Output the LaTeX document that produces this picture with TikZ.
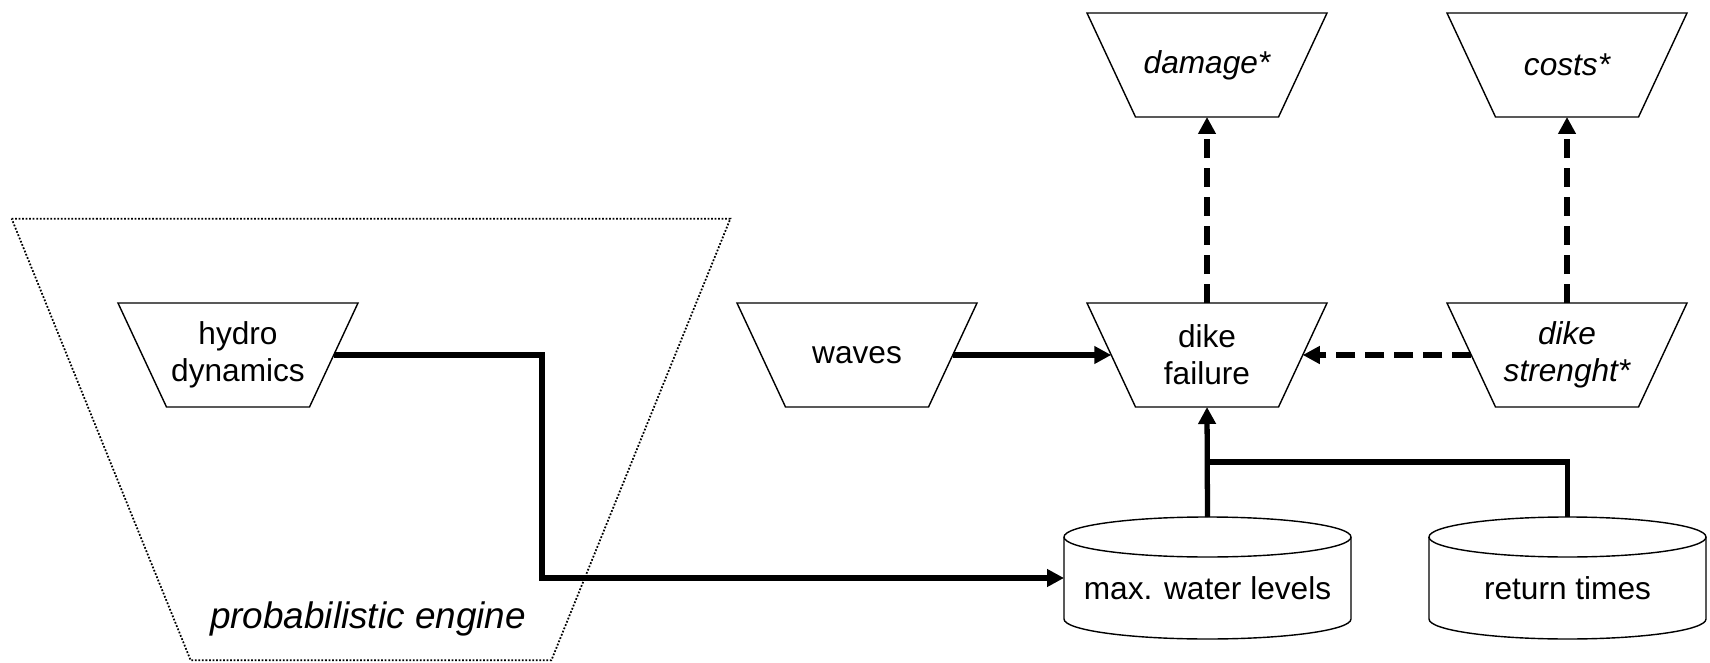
\documentclass[tikz,border=0pt]{standalone}
\usepackage{fontspec}
\setmainfont{Liberation Sans}
\usetikzlibrary{arrows.meta, calc}

\begin{document}
\begin{tikzpicture}[
        model/.style={minimum width=4.8cm, minimum height=2.08cm, inner sep=0pt, outer sep=0pt,
            align=center, font=\fontsize{18}{21}\selectfont},
        store/.style={minimum width=5.74cm, minimum height=2.44cm, inner sep=0pt, outer sep=0pt,
            text height=0.86cm, text depth=0pt, font=\fontsize{18}{21}\selectfont},
        border/.style={line width=0.8pt},
        flow/.style={line width=3pt, -{Triangle[length=3.4mm, width=3.4mm]}},
        effect/.style={flow, dash pattern=on 3.8mm off 2mm}
    ]
        \useasboundingbox (0,0) rectangle (34.2,13.24);
        % probabilistic engine
        \node[minimum width=14.36cm, minimum height=8.82cm] (engine) at (7.42,4.45) {};
        \draw[line width=1pt, dash pattern=on 1pt off 1pt] (engine.north west) -- (engine.north east)
            -- ([xshift=-3.58cm]engine.south east) -- ([xshift=3.58cm]engine.south west) -- cycle;
        \node[font=\fontsize{21}{25}\selectfont\itshape] (enginelabel) at (7.36,0.87) {probabilistic engine};

        \node[model] (hydro) at (4.76,6.14) {hydro\\dynamics};
        \node[model] (waves) at (17.14,6.14) {waves};
        \node[model] (dike) at (24.14,6.14) {dike\\failure};
        \node[model, font=\fontsize{18}{21}\selectfont\itshape] (strength) at (31.34,6.14) {dike\\strenght*};
        \node[model, font=\fontsize{18}{21}\selectfont\itshape] (damage) at (24.14,11.94) {damage*};
        \node[model, font=\fontsize{18}{21}\selectfont\itshape] (costs) at (31.34,11.94) {costs*};
        \foreach \n in {hydro, waves, dike, strength, damage, costs}{
            \draw[border] (\n.north west) -- (\n.north east) -- ([xshift=-9.7mm]\n.south east)
                -- ([xshift=9.7mm]\n.south west) -- cycle;
        }

        \node[store] (maxwl) at (24.15,1.68) {max. water levels};
        \node[store, minimum width=5.54cm] (rett) at (31.35,1.68) {return times};
        \foreach \n/\rx in {maxwl/2.87cm, rett/2.77cm}{
            \draw[border] ([yshift=-4mm]\n.north west) -- ([yshift=4mm]\n.south west)
                arc[start angle=180, end angle=360, x radius=\rx, y radius=4mm]
                -- ([yshift=-4mm]\n.north east)
                arc[start angle=0, end angle=180, x radius=\rx, y radius=4mm] -- cycle;
            \draw[border] ([yshift=-4mm]\n.north west)
                arc[start angle=180, end angle=360, x radius=\rx, y radius=4mm];
        }

        \coordinate (bend) at (10.84,6.14);
        \coordinate (join) at ($(maxwl.north)!0.5!(dike.south)$);
        \draw[flow] ([xshift=-4.85mm]hydro.east) -- (bend) |- (maxwl.west);
        \draw[flow] ([xshift=-4.85mm]waves.east) -- ([xshift=4.85mm]dike.west);
        \draw[effect] ([xshift=4.85mm]strength.west) -- ([xshift=-4.85mm]dike.east);
        \draw[effect] (dike.north) -- (damage.south);
        \draw[effect] (strength.north) -- (costs.south);
        \draw[flow] (maxwl.north) -- (dike.south);
        \draw[line width=3pt] (rett.north) |- (join);
    \end{tikzpicture}
\end{document}
